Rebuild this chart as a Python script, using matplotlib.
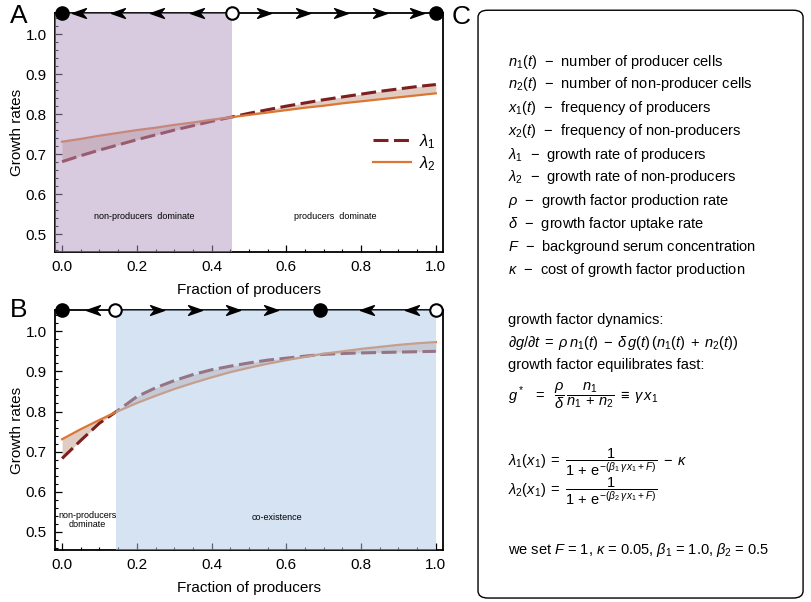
import matplotlib
matplotlib.use("Agg")
import matplotlib.pyplot as plt
from matplotlib.path import Path
from matplotlib.patches import FancyBboxPatch
from matplotlib.ticker import MultipleLocator

plt.rcParams["font.family"] = ["Liberation Sans", "DejaVu Sans"]
plt.rcParams["mathtext.fontset"] = "custom"
plt.rcParams["mathtext.rm"] = "Liberation Sans"
plt.rcParams["mathtext.it"] = "Liberation Sans:italic"
plt.rcParams["mathtext.bf"] = "Liberation Sans:bold"

# fraction of producers
x_frac = [0.00, 0.05, 0.10, 0.15, 0.20, 0.25, 0.30, 0.35, 0.40, 0.45, 0.50,
          0.55, 0.60, 0.65, 0.70, 0.75, 0.80, 0.85, 0.90, 0.95, 1.00]

# panel A growth rates
lam1_A = [0.681, 0.696, 0.710, 0.723, 0.736, 0.748, 0.760, 0.771, 0.782, 0.792, 0.802,
          0.811, 0.820, 0.828, 0.836, 0.843, 0.850, 0.857, 0.863, 0.869, 0.874]
lam2_A = [0.731, 0.738, 0.746, 0.753, 0.760, 0.766, 0.773, 0.779, 0.786, 0.792, 0.798,
          0.804, 0.810, 0.816, 0.821, 0.827, 0.832, 0.837, 0.842, 0.847, 0.852]

# panel B growth rates
lam1_B = [0.683, 0.728, 0.771, 0.803, 0.837, 0.859, 0.877, 0.892, 0.904, 0.913, 0.921,
          0.928, 0.933, 0.938, 0.9425, 0.9445, 0.946, 0.947, 0.948, 0.949, 0.950]
lam2_B = [0.731, 0.756, 0.779, 0.801, 0.821, 0.839, 0.856, 0.871, 0.885, 0.898, 0.909,
          0.919, 0.928, 0.936, 0.944, 0.950, 0.956, 0.961, 0.966, 0.970, 0.973]

# phase line: fixed points and flow arrows
split_A = 0.455
stable_A = [0.0, 1.0]
unstable_A = [0.455]
left_A = [0.045, 0.15, 0.255, 0.36]
right_A = [0.54, 0.645, 0.745, 0.85, 0.95]

split_B = 0.145
stable_B = [0.0, 0.69]
unstable_B = [0.142, 1.0]
left_B = [0.083, 0.815, 0.935]
right_B = [0.254, 0.356, 0.457, 0.56]

c1 = "#7d1f1f"
c2 = "#dc7633"
fill_c = "#c49a8a"

head_r = Path([(1, 0), (-1, 0.7), (-0.4, 0), (-1, -0.7), (1, 0)],
              [Path.MOVETO, Path.LINETO, Path.LINETO, Path.LINETO, Path.CLOSEPOLY])
head_l = Path([(-1, 0), (1, 0.7), (0.4, 0), (1, -0.7), (-1, 0)],
              [Path.MOVETO, Path.LINETO, Path.LINETO, Path.LINETO, Path.CLOSEPOLY])

fig = plt.figure(figsize=(8.12, 6.02), dpi=100)
ax_a = fig.add_axes([0.0677, 0.5814, 0.4778, 0.397])
ax_b = fig.add_axes([0.0677, 0.0864, 0.4778, 0.3987])

ytop = 1.053


def draw_panel(ax, l1, l2, span, span_color, stable, unstable, left, right, legend):
    ax.fill_between(x_frac, l1, l2, color=fill_c, alpha=0.5, lw=0, interpolate=True, zorder=1)
    ax.plot(x_frac, l1, color=c1, lw=2.2, dashes=(4.9, 1.8), label=r"$\lambda_1$", zorder=2)
    ax.plot(x_frac, l2, color=c2, lw=1.6, label=r"$\lambda_2$", zorder=2)
    ax.axvspan(span[0], span[1], color=span_color, alpha=0.5, lw=0, zorder=3)
    ax.set_xlim(-0.019, 1.019)
    ax.set_ylim(0.455, ytop)
    ax.xaxis.set_major_locator(MultipleLocator(0.2))
    ax.xaxis.set_minor_locator(MultipleLocator(0.05))
    ax.yaxis.set_major_locator(MultipleLocator(0.1))
    ax.yaxis.set_minor_locator(MultipleLocator(0.02))
    ax.tick_params(which="both", direction="in", top=False, right=False, labelsize=11, pad=6)
    ax.tick_params(which="major", length=5, width=0.9)
    ax.tick_params(which="minor", length=2.5, width=0.8)
    for s in ax.spines.values():
        s.set_linewidth(1.3)
    ax.set_xlabel("Fraction of producers", fontsize=11, labelpad=6)
    ax.set_ylabel("Growth rates", fontsize=11, labelpad=1)
    ax.set_yticks([0.5, 0.6, 0.7, 0.8, 0.9, 1.0])
    # phase line on the top edge
    ax.plot(left, [ytop] * len(left), ls="none", marker=head_l, ms=10, color="black",
            clip_on=False, zorder=6)
    ax.plot(right, [ytop] * len(right), ls="none", marker=head_r, ms=10, color="black",
            clip_on=False, zorder=6)
    ax.plot(stable, [ytop] * len(stable), ls="none", marker="o", ms=9.5, color="black",
            clip_on=False, zorder=7)
    ax.plot(unstable, [ytop] * len(unstable), ls="none", marker="o", ms=9, mfc="white",
            mec="black", mew=1.5, clip_on=False, zorder=7)
    if legend:
        ax.legend(loc="upper right", bbox_to_anchor=(1.0, 0.53), frameon=False,
                  fontsize=12, handlelength=2.3, handletextpad=0.5, labelspacing=0.2,
                  borderaxespad=0)


draw_panel(ax_a, lam1_A, lam2_A, (-0.02, split_A), "#b399c1",
           stable_A, unstable_A, left_A, right_A, True)
draw_panel(ax_b, lam1_B, lam2_B, (split_B, 1.0), "#adc9e9",
           stable_B, unstable_B, left_B, right_B, False)

ax_a.text(0.22, 0.545, "non-producers  dominate", fontsize=6.5, ha="center", va="center", zorder=5)
ax_a.text(0.73, 0.545, "producers  dominate", fontsize=6.5, ha="center", va="center", zorder=5)
ax_b.text(0.067, 0.53, "non-producers\ndominate", fontsize=6.5, ha="center", va="center",
          linespacing=1.1, zorder=5)
ax_b.text(0.575, 0.535, "co-existence", fontsize=6.5, ha="center", va="center", zorder=5)

fig.text(0.012, 0.973, "A", fontsize=19, ha="left", va="center")
fig.text(0.012, 0.485, "B", fontsize=19, ha="left", va="center")
fig.text(0.556, 0.971, "C", fontsize=19, ha="left", va="center")

box = FancyBboxPatch((0.5887, 0.0066), 0.4003, 0.9764, boxstyle="round,pad=0,rounding_size=0.012",
                     transform=fig.transFigure, fc="white", ec="black", lw=1.0)
fig.patches.append(box)

legend_lines = [
    r"$n_1(t)$  $-$  number of producer cells",
    r"$n_2(t)$  $-$  number of non-producer cells",
    r"$x_1(t)$  $-$  frequency of producers",
    r"$x_2(t)$  $-$  frequency of non-producers",
    r"$\lambda_1$  $-$  growth rate of producers",
    r"$\lambda_2$  $-$  growth rate of non-producers",
    r"$\rho$  $-$  growth factor production rate",
    r"$\delta$  $-$  growth factor uptake rate",
    r"$F$  $-$  background serum concentration",
    r"$\kappa$  $-$  cost of growth factor production",
]
line_px = [62, 84, 108, 131, 155, 177, 201, 224, 247, 270]
tx = 0.6256
for s, py in zip(legend_lines, line_px):
    fig.text(tx, 1 - py / 602, s, fontsize=10.5, ha="left", va="center")

fig.text(tx, 1 - 320 / 602, "growth factor dynamics:", fontsize=10.5, va="center")
fig.text(tx, 1 - 343 / 602,
         r"$\partial g/\partial t\;=\;\rho\, n_1(t)\;-\;\delta\, g(t)\,(n_1(t)\;+\;n_2(t))$",
         fontsize=10.5, va="center")
fig.text(tx, 1 - 365 / 602, "growth factor equilibrates fast:", fontsize=10.5, va="center")
fig.text(tx, 1 - 396 / 602,
         r"$g^*\ \ =\ \ \dfrac{\rho}{\delta}\,\dfrac{n_1}{n_1\,+\,n_2}\;\equiv\;\gamma\, x_1$",
         fontsize=10.5, va="center")
fig.text(tx, 1 - 462 / 602,
         r"$\lambda_1(x_1)\;=\;\dfrac{1}{1\,+\,\mathrm{e}^{-(\beta_1\, \gamma\, x_1 + F)}}\;-\;\kappa$",
         fontsize=10.5, va="center")
fig.text(tx, 1 - 491 / 602,
         r"$\lambda_2(x_1)\;=\;\dfrac{1}{1\,+\,\mathrm{e}^{-(\beta_2\, \gamma\, x_1 + F)}}$",
         fontsize=10.5, va="center")
fig.text(tx, 1 - 550 / 602,
         r"we set $F$ = 1, $\kappa$ = 0.05, $\beta_1$ = 1.0, $\beta_2$ = 0.5",
         fontsize=10.5, va="center")

fig.savefig("out.png", dpi=100)
